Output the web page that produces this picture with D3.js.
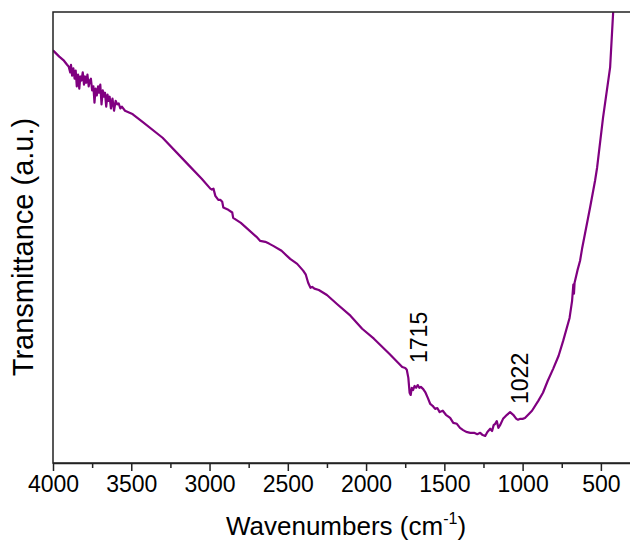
<!DOCTYPE html>
<html>
<head>
<meta charset="utf-8">
<script src="https://cdn.jsdelivr.net/npm/d3@7"></script>
<style>
  body { margin: 0; background: #fff; }
  svg { display: block; font-family: Arial, "Liberation Sans", sans-serif; }
</style>
</head>
<body>
<div id="chart"></div>
<script>
// FTIR spectrum: wavenumber (cm-1) / transmittance (a.u.)
const wavenumbers = [
  4000, 3960, 3930, 3910, 3900, 3890, 3885, 3878, 3870, 3862, 3855, 3848, 3840, 3832, 3825, 3818,
  3810, 3802, 3795, 3788, 3780, 3772, 3765, 3758, 3750, 3742, 3735, 3728, 3720, 3712, 3705, 3698,
  3690, 3682, 3675, 3668, 3660, 3652, 3645, 3638, 3630, 3620, 3610, 3600, 3590, 3580, 3570, 3560,
  3540, 3500, 3486, 3430, 3300, 3141, 3050, 2995, 2985, 2975, 2963, 2944, 2930, 2919, 2912, 2880,
  2855, 2849, 2800, 2700, 2676, 2644, 2620, 2593, 2540, 2485, 2440, 2402, 2385, 2370, 2355, 2344,
  2330, 2302, 2250, 2186, 2100, 2025, 1950, 1850, 1769, 1750, 1740, 1730, 1722, 1715, 1708, 1700,
  1690, 1680, 1670, 1660, 1650, 1635, 1620, 1605, 1590, 1575, 1559, 1545, 1530, 1510, 1490, 1463,
  1443, 1420, 1400, 1380, 1360, 1334, 1310, 1290, 1271, 1255, 1239, 1225, 1207, 1195, 1185, 1175,
  1165, 1155, 1144, 1125, 1100, 1080, 1060, 1040, 1029, 1015, 1000, 985, 960, 940, 900, 870,
  840, 805, 770, 741, 700, 684, 676, 672, 668, 650, 633, 620, 582, 569, 537, 524,
  486, 441, 422, 410
];
const transmittance = [
  91.6, 90.2, 89.3, 88.4, 88.0, 86.7, 88.4, 86.0, 87.6, 85.3, 87.1, 83.6, 86.2, 83.1, 85.8, 84.9,
  86.7, 84.0, 85.8, 84.4, 86.2, 83.6, 84.9, 85.3, 82.7, 83.6, 80.0, 83.1, 81.6, 83.6, 82.2, 84.0,
  79.6, 82.7, 81.3, 82.2, 79.1, 81.8, 80.4, 81.3, 78.7, 80.9, 78.2, 80.4, 79.6, 79.8, 78.7, 79.1,
  78.2, 77.6, 77.3, 75.8, 72.2, 66.4, 63.1, 60.9, 60.7, 60.9, 59.3, 58.4, 58.4, 58.0, 56.7, 56.2,
  55.6, 54.4, 53.3, 50.2, 49.3, 49.1, 48.7, 48.2, 47.1, 45.3, 44.2, 42.7, 41.8, 40.0, 38.9, 39.1,
  38.7, 38.4, 37.3, 35.3, 32.7, 29.8, 27.6, 24.2, 21.3, 21.1, 20.7, 18.9, 15.6, 15.1, 16.7, 16.2,
  17.1, 16.7, 17.3, 16.7, 16.9, 16.4, 15.6, 14.4, 13.1, 12.7, 12.0, 12.2, 11.3, 11.6, 10.7, 10.0,
  8.9, 8.7, 7.8, 7.3, 6.9, 6.7, 6.7, 6.4, 6.7, 6.2, 6.0, 6.9, 7.6, 7.1, 8.4, 8.7,
  9.3, 7.8, 8.4, 9.8, 10.7, 11.3, 10.7, 9.8, 9.6, 9.8, 9.8, 10.0, 10.9, 11.6, 13.8, 15.6,
  18.2, 20.9, 23.8, 27.1, 32.2, 36.0, 39.6, 37.6, 40.0, 42.7, 44.9, 47.6, 54.4, 56.7, 62.7, 65.6,
  76.7, 87.8, 99.8, 107.1
];

const majorTicks = [4000, 3500, 3000, 2500, 2000, 1500, 1000, 500];
const minorTicks = [3750, 3250, 2750, 2250, 1750, 1250, 750];

// peak labels, anchored at the baseline of the rotated text
const peakLabels = ['1715', '1022'];
const peakLabelAt = [1610, 965];
const peakLabelLevel = [22.2, 13.1];

const W = 630, H = 540;
const margin = { top: 12, right: 0, bottom: 77, left: 53 };

const svg = d3.select('#chart')
  .append('svg')
  .attr('width', W)
  .attr('height', H);

const x = d3.scaleLinear()
  .domain([4000, 314])
  .range([margin.left, W - margin.right]);

const y = d3.scaleLinear()
  .domain([0, 100])
  .range([H - margin.bottom, margin.top + 0.5]);

const data = wavenumbers.map((w, i) => ({ w: w, t: transmittance[i] }));

svg.append('clipPath')
  .attr('id', 'plot-clip')
  .append('rect')
  .attr('x', margin.left)
  .attr('y', margin.top)
  .attr('width', W - margin.left)
  .attr('height', H - margin.bottom - margin.top);

// spectrum
svg.append('path')
  .datum(data)
  .attr('clip-path', 'url(#plot-clip)')
  .attr('fill', 'none')
  .attr('stroke', '#800080')
  .attr('stroke-width', 2.2)
  .attr('stroke-linejoin', 'round')
  .attr('d', d3.line().x((d) => x(d.w)).y((d) => y(d.t)));

// frame
svg.append('rect')
  .attr('x', margin.left)
  .attr('y', margin.top)
  .attr('width', W - margin.left + 5)
  .attr('height', H - margin.bottom - margin.top)
  .attr('fill', 'none')
  .attr('stroke', '#222')
  .attr('stroke-width', 1.5);

// x axis, major + minor
const gx = svg.append('g')
  .attr('transform', `translate(0,${H - margin.bottom})`)
  .call(
    d3.axisBottom(x)
      .tickValues(majorTicks)
      .tickFormat(d3.format('d'))
      .tickSize(8)
      .tickSizeOuter(0)
      .tickPadding(5)
  );

gx.select('.domain').attr('stroke', '#222').attr('stroke-width', 1.5);
gx.selectAll('.tick line').attr('stroke', '#222').attr('stroke-width', 1.5);
gx.selectAll('.tick text')
  .attr('fill', '#000')
  .style('font-size', '23px');

svg.append('g')
  .attr('transform', `translate(0,${H - margin.bottom})`)
  .call(d3.axisBottom(x).tickValues(minorTicks).tickSize(5).tickFormat(''))
  .call((g) => g.select('.domain').remove())
  .selectAll('.tick line')
  .attr('stroke', '#222')
  .attr('stroke-width', 1.5);

// axis titles
const xTitle = svg.append('text')
  .attr('x', 346)
  .attr('y', 535)
  .attr('text-anchor', 'middle')
  .style('font-size', '26px')
  .attr('fill', '#000');
xTitle.append('tspan').text('Wavenumbers (cm');
xTitle.append('tspan').attr('dy', -11).style('font-size', '16px').text('-1');
xTitle.append('tspan').attr('dy', 11).text(')');

svg.append('text')
  .attr('transform', 'translate(33,247) rotate(-90)')
  .attr('text-anchor', 'middle')
  .style('font-size', '29px')
  .attr('fill', '#000')
  .text('Transmittance (a.u.)');

// peak annotations
svg.selectAll('text.peak')
  .data(peakLabels)
  .enter()
  .append('text')
  .attr('class', 'peak')
  .attr('transform', (d, i) => `translate(${x(peakLabelAt[i])},${y(peakLabelLevel[i])}) rotate(-90)`)
  .style('font-size', '23px')
  .attr('fill', '#000')
  .text((d) => d);
</script>
</body>
</html>
